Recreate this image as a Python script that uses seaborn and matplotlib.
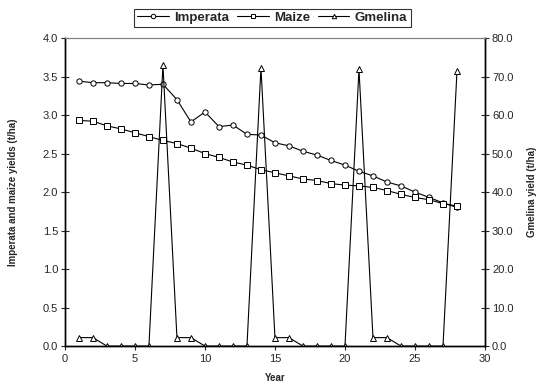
import matplotlib
matplotlib.use("Agg")
import matplotlib.pyplot as plt
import seaborn as sns
import pandas as pd
from matplotlib.lines import Line2D

years = list(range(1, 29))
imperata = [3.44, 3.42, 3.42, 3.41, 3.41, 3.39, 3.40, 3.20, 2.91, 3.04, 2.85, 2.87, 2.75, 2.74,
            2.64, 2.60, 2.53, 2.48, 2.41, 2.35, 2.27, 2.21, 2.13, 2.08, 2.00, 1.93, 1.86, 1.80]
maize = [2.93, 2.92, 2.86, 2.82, 2.77, 2.72, 2.67, 2.63, 2.57, 2.50, 2.45, 2.39, 2.35, 2.29,
         2.25, 2.21, 2.17, 2.15, 2.11, 2.09, 2.08, 2.06, 2.02, 1.97, 1.93, 1.90, 1.85, 1.82]
gmelina = [2.2, 2.2, 0, 0, 0, 0, 73.0, 2.2, 2.2, 0, 0, 0, 0, 72.3,
           2.2, 2.2, 0, 0, 0, 0, 71.9, 2.2, 2.2, 0, 0, 0, 0, 71.5]

left_ticks = [0.0, 0.5, 1.0, 1.5, 2.0, 2.5, 3.0, 3.5, 4.0]
right_ticks = [0, 10, 20, 30, 40, 50, 60, 70, 80]
x_ticks = [0, 5, 10, 15, 20, 25, 30]

sns.set_style("white")
plt.rcParams['font.family'] = ['Liberation Sans', 'DejaVu Sans']

fig = plt.figure(figsize=(5.41, 3.88), dpi=100)
ax = fig.add_axes([0.120, 0.108, 0.7765, 0.794])
ax2 = ax.twinx()

df = pd.DataFrame({"Year": years, "Imperata": imperata, "Maize": maize, "Gmelina": gmelina})

mk = dict(markerfacecolor="white", markeredgecolor="black", markeredgewidth=0.7, markersize=3.8)
sns.lineplot(data=df, x="Year", y="Imperata", ax=ax, color="black", linewidth=0.8,
             marker="o", **mk)
sns.lineplot(data=df, x="Year", y="Maize", ax=ax, color="black", linewidth=0.8,
             marker="s", **mk)
sns.lineplot(data=df, x="Year", y="Gmelina", ax=ax2, color="black", linewidth=0.8,
             marker="^", **mk)

ax.set_xlim(0, 30)
ax.set_ylim(0, 4.0)
ax2.set_ylim(0, 80)
ax.set_xticks(x_ticks)
ax.set_yticks(left_ticks)
ax.set_yticklabels([f"{v:.1f}" for v in left_ticks])
ax2.set_yticks(right_ticks)
ax2.set_yticklabels([f"{v:.1f}" for v in right_ticks])

ax.set_xlabel("Year", fontsize=7, fontweight="bold", labelpad=6)
ax.set_ylabel("Imperata and maize yields (t/ha)", fontsize=7, fontweight="bold", labelpad=18)
ax2.set_ylabel("Gmelina yield (t/ha)", fontsize=7, fontweight="bold", labelpad=10)

for a in (ax, ax2):
    for s in ("left", "right", "bottom"):
        a.spines[s].set_color("black")
        a.spines[s].set_linewidth(1.0)
    a.spines["top"].set_color("#808080")
    a.spines["top"].set_linewidth(0.8)
    a.grid(False)

ax.tick_params(axis="y", direction="inout", length=6, width=0.8, labelsize=8, left=True, pad=2)
ax.tick_params(axis="x", direction="out", length=3, width=0.8, labelsize=8, bottom=True, pad=3)
ax2.tick_params(axis="y", direction="inout", length=6, width=0.8, labelsize=8, right=True, pad=2)

lmk = dict(markerfacecolor="white", markeredgecolor="black", markeredgewidth=0.7, markersize=3.2)
handles = [
    Line2D([], [], color="black", linewidth=0.8, marker="o", **lmk),
    Line2D([], [], color="black", linewidth=0.8, marker="s", **lmk),
    Line2D([], [], color="black", linewidth=0.8, marker="^", **lmk),
]
leg = fig.legend(handles, ["Imperata", "Maize", "Gmelina"], loc="upper center",
                 bbox_to_anchor=(0.503, 0.978), ncol=3, frameon=True, fancybox=False,
                 edgecolor="black", handlelength=2.4, columnspacing=0.6,
                 handletextpad=0.4, borderpad=0.25, borderaxespad=0,
                 prop={"weight": "bold", "size": 9.5})
leg.get_frame().set_linewidth(0.8)

fig.savefig("out.png", dpi=100)
